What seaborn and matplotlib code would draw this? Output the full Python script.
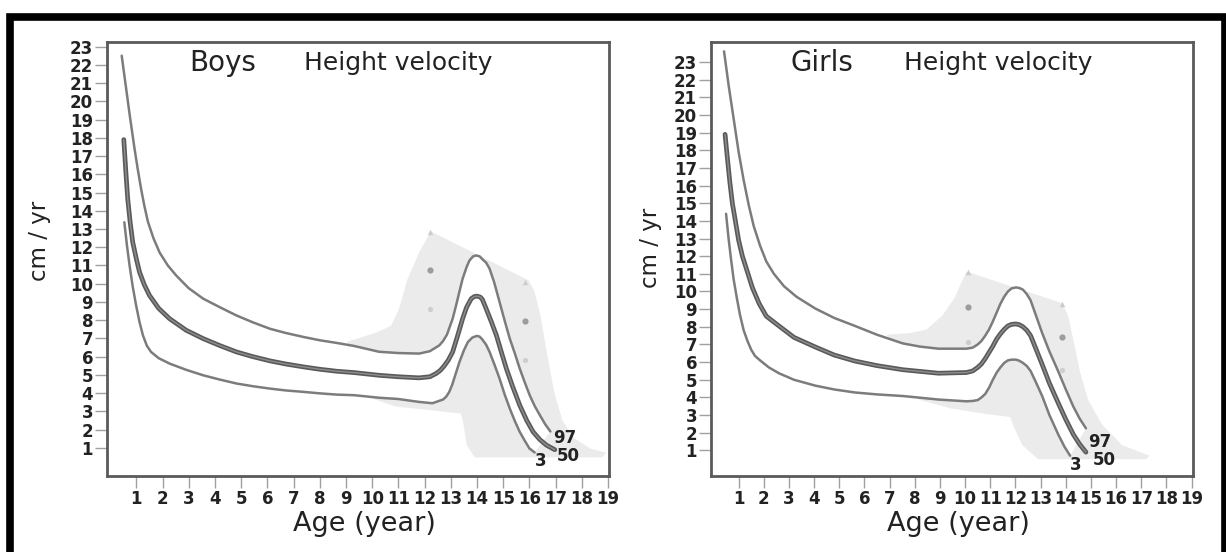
import numpy as np
import pandas as pd
import matplotlib
matplotlib.use("Agg")
import matplotlib.pyplot as plt
import matplotlib.patches as mpatches
import seaborn as sns

# --- Boys: height velocity percentiles (age in years, cm/yr) ---
boys_p97_age = [0.44, 0.6, 0.75, 0.93, 1.05, 1.18, 1.3, 1.44, 1.65, 1.89, 2.2, 2.52, 3.0, 3.55, 4.2,
                4.82, 5.45, 6.1, 6.7, 7.38, 8.0, 8.66, 9.3, 10.26, 11.0, 11.79, 12.2, 12.56, 12.7,
                12.85, 12.95, 13.07, 13.2, 13.3, 13.45, 13.6, 13.71, 13.85, 13.97, 14.1, 14.2,
                14.35, 14.48, 14.65, 14.86, 15.05, 15.25, 15.45, 15.63, 15.82, 16.01, 16.2, 16.4,
                16.6, 16.8]
boys_p97_val = [22.5, 20.8, 19.2, 17.4, 16.3, 15.2, 14.3, 13.4, 12.5, 11.7, 11.0, 10.45, 9.75, 9.18, 8.7,
                8.26, 7.88, 7.53, 7.3, 7.08, 6.9, 6.75, 6.59, 6.27, 6.2, 6.17, 6.3, 6.62, 6.85,
                7.2, 7.6, 8.08, 8.8, 9.4, 10.27, 10.9, 11.27, 11.5, 11.55, 11.5, 11.35,
                11.15, 10.82, 10.1, 9.0, 8.0, 6.99, 6.15, 5.35, 4.6, 3.89, 3.3, 2.79,
                2.3, 1.9]
boys_p50_age = [0.52, 0.6, 0.67, 0.76, 0.86, 1.0, 1.12, 1.3, 1.5, 1.85, 2.27, 2.9, 3.55, 4.2, 4.82,
                5.45, 6.1, 6.7, 7.38, 8.0, 8.66, 9.3, 10.26, 11.0, 11.79, 12.2, 12.43, 12.6, 12.75,
                12.9, 13.07, 13.25, 13.45, 13.6, 13.78, 13.9, 14.0, 14.12, 14.2, 14.35, 14.55,
                14.74, 14.93, 15.12, 15.35, 15.63, 15.9, 16.14, 16.4, 16.65, 16.97]
boys_p50_val = [17.9, 16.1, 14.65, 13.4, 12.28, 11.35, 10.64, 9.95, 9.36, 8.65, 8.08, 7.45, 6.99, 6.6, 6.26,
                6.0, 5.77, 5.6, 5.44, 5.31, 5.2, 5.13, 4.98, 4.9, 4.84, 4.9, 5.07, 5.25, 5.5,
                5.8, 6.26, 7.1, 8.08, 8.7, 9.18, 9.3, 9.32, 9.27, 9.15, 8.63, 7.9,
                7.17, 6.25, 5.35, 4.4, 3.34, 2.5, 1.88, 1.45, 1.15, 0.9]
boys_p3_age = [0.54, 0.64, 0.74, 0.86, 0.99, 1.12, 1.25, 1.4, 1.56, 1.85, 2.27, 2.9, 3.55, 4.2, 4.82,
               5.45, 6.1, 6.7, 7.38, 8.0, 8.66, 9.3, 10.26, 11.0, 11.79, 12.3, 12.7, 12.82, 12.94,
               13.05, 13.15, 13.33, 13.5, 13.65, 13.82, 14.0, 14.1, 14.2, 14.35, 14.48, 14.67,
               14.86, 15.05, 15.25, 15.45, 15.63, 15.82, 16.0, 16.2]
boys_p3_val = [13.37, 12.1, 11.0, 9.85, 8.81, 7.9, 7.17, 6.6, 6.26, 5.92, 5.62, 5.28, 4.98, 4.74, 4.53,
               4.38, 4.25, 4.15, 4.07, 3.99, 3.92, 3.89, 3.75, 3.68, 3.52, 3.45, 3.65, 3.8, 4.07,
               4.45, 4.9, 5.71, 6.35, 6.8, 7.05, 7.14, 7.1, 6.95, 6.65, 6.26, 5.55,
               4.8, 3.95, 3.16, 2.45, 1.88, 1.4, 0.97, 0.75]

# grey zone: spread of peak height velocity timing (boys)
boys_zone_age = [9.05, 10.12, 10.72, 11.03, 11.33, 11.79, 12.24, 15.97, 16.19, 16.42, 16.65, 16.95,
                 17.26, 17.71, 18.32, 18.93, 18.78, 13.91, 13.61, 13.46, 13.38, 12.4, 10.88, 10.12, 9.36]
boys_zone_val = [6.82, 7.3, 7.69, 8.65, 10.18, 11.72, 12.87, 10.18, 9.6, 8.26, 6.34, 4.04,
                 2.5, 1.54, 0.96, 0.73, 0.48, 0.48, 1.15, 2.5, 2.88, 3.04, 3.27, 3.65, 4.23]
boys_mark_age = [12.2, 15.82]
boys_mark_hi = [12.86, 10.09]
boys_mark_mid = [10.76, 7.96]
boys_mark_lo = [8.63, 5.8]

# --- Girls ---
girls_p97_age = [0.42, 0.6, 0.8, 1.0, 1.2, 1.4, 1.6, 1.85, 2.1, 2.4, 2.8, 3.3, 4.04, 4.8, 5.62, 6.5,
                 7.52, 8.2, 8.94, 10.05, 10.3, 10.5, 10.65, 10.8, 10.95, 11.1, 11.25, 11.4, 11.55,
                 11.7, 11.85, 12.02, 12.15, 12.3, 12.45, 12.6, 12.8, 13.06, 13.35, 13.7, 14.0,
                 14.3, 14.55, 14.8]
girls_p97_val = [23.6, 21.7, 19.8, 17.9, 16.3, 14.9, 13.7, 12.6, 11.7, 11.0, 10.3, 9.7, 9.04, 8.5, 8.05, 7.55,
                 7.06, 6.88, 6.76, 6.76, 6.82, 7.0, 7.2, 7.5, 7.85, 8.3, 8.8, 9.3, 9.7,
                 10.0, 10.18, 10.23, 10.2, 10.1, 9.85, 9.5, 8.7, 7.65, 6.6, 5.47, 4.45,
                 3.48, 2.8, 2.25]
girls_p50_age = [0.46, 0.55, 0.65, 0.75, 0.87, 1.0, 1.15, 1.35, 1.55, 1.82, 2.1, 2.6, 3.2, 4.04, 4.8,
                 5.62, 6.5, 7.52, 8.94, 10.05, 10.3, 10.5, 10.65, 10.8, 10.95, 11.1, 11.25, 11.4,
                 11.55, 11.7, 11.85, 12.02, 12.15, 12.3, 12.45, 12.6, 12.8, 13.06, 13.35, 13.7,
                 14.0, 14.3, 14.55, 14.8]
girls_p50_val = [18.9, 17.6, 16.2, 15.0, 14.0, 12.9, 12.0, 11.1, 10.2, 9.3, 8.6, 8.05, 7.4, 6.86, 6.4,
                 6.06, 5.8, 5.57, 5.37, 5.41, 5.5, 5.7, 5.9, 6.2, 6.55, 6.9, 7.3, 7.6,
                 7.85, 8.05, 8.14, 8.16, 8.12, 8.0, 7.8, 7.5, 6.8, 5.87, 4.8, 3.68,
                 2.75, 1.9, 1.35, 0.9]
girls_p3_age = [0.5, 0.6, 0.7, 0.8, 0.92, 1.05, 1.2, 1.35, 1.5, 1.65, 1.85, 2.2, 2.6, 3.2, 4.04, 4.8,
                5.62, 6.5, 7.52, 8.94, 10.05, 10.3, 10.5, 10.65, 10.8, 10.95, 11.1, 11.25, 11.4,
                11.55, 11.7, 11.85, 12.02, 12.15, 12.3, 12.45, 12.6, 12.8, 13.06, 13.35, 13.7,
                13.95, 14.17]
girls_p3_val = [14.4, 13.0, 11.8, 10.7, 9.7, 8.7, 7.8, 7.2, 6.7, 6.35, 6.1, 5.7, 5.37, 5.0, 4.67, 4.45,
                4.28, 4.17, 4.08, 3.88, 3.78, 3.8, 3.85, 4.0, 4.2, 4.55, 5.0, 5.4, 5.7,
                5.95, 6.1, 6.14, 6.14, 6.08, 5.95, 5.78, 5.5, 4.9, 4.08, 3.0, 1.9,
                1.2, 0.7]

girls_zone_age = [6.89, 7.84, 8.47, 9.1, 9.58, 10.05, 13.85, 14.09, 14.33, 14.56, 14.88, 15.43,
                  16.23, 17.33, 17.18, 12.9, 12.27, 11.95, 11.79, 10.69, 9.42, 8.15, 7.2]
girls_zone_val = [7.55, 7.65, 7.85, 8.64, 9.64, 11.13, 9.34, 8.64, 7.06, 5.47, 3.88, 2.49,
                  1.3, 0.7, 0.5, 0.5, 1.3, 2.29, 2.89, 3.09, 3.38, 3.88, 6.46]
girls_mark_age = [10.1, 13.86]
girls_mark_hi = [11.1, 9.29]
girls_mark_mid = [9.1, 7.41]
girls_mark_lo = [7.16, 5.58]

x_ticks = list(range(1, 20))
y_ticks = list(range(1, 24))
pct_labels = ["97", "50", "3"]
boys_label_pos = [(17.36, 1.56), (17.48, 0.55), (16.44, 0.28)]
girls_label_pos = [(15.36, 1.47), (15.52, 0.44), (14.41, 0.19)]

sns.set_theme(style="white")
plt.rcParams["font.family"] = ["DejaVu Sans"]

TXT = "#222222"
tick_font = dict(fontsize=12, fontweight="bold", color=TXT)


def draw_panel(ax, sex, curves, zone, marks, label_pos, xlim, ylim, ylab_xy, title_y, title_x):
    (a97, v97), (a50, v50), (a3, v3) = curves
    ax.fill(zone[0], zone[1], color="#ebebeb", lw=0, zorder=1)
    # white band between 3rd and 97th percentile
    ax.fill(list(a97) + list(a3)[::-1], list(v97) + list(v3)[::-1], color="white", lw=0, zorder=2)

    m_age, m_hi, m_mid, m_lo = marks
    sns.scatterplot(x=m_age, y=m_hi, marker="^", s=16, color="#cccccc", linewidth=0, ax=ax, zorder=3)
    sns.scatterplot(x=m_age, y=m_mid, marker="o", s=20, color="#9c9c9c", linewidth=0, ax=ax, zorder=3)
    sns.scatterplot(x=m_age, y=m_lo, marker="o", s=14, color="#cdcdcd", linewidth=0, ax=ax, zorder=3)

    for a, v in [(a97, v97), (a3, v3)]:
        df = pd.DataFrame({"age": a, "v": v})
        sns.lineplot(data=df, x="age", y="v", sort=False, estimator=None, color="#7c7c7c",
                     lw=1.8, ax=ax, zorder=4)
    df = pd.DataFrame({"age": a50, "v": v50})
    sns.lineplot(data=df, x="age", y="v", sort=False, estimator=None, color="#5a5a5a", lw=3.4, ax=ax, zorder=4)
    sns.lineplot(data=df, x="age", y="v", sort=False, estimator=None, color="#8e8e8e", lw=1.0, ax=ax, zorder=5)

    for lab, (x, y) in zip(pct_labels, label_pos):
        ax.text(x, y, lab, ha="center", va="center", zorder=6, **tick_font)

    ax.set_xlim(*xlim)
    ax.set_ylim(*ylim)
    ax.set_xticks(x_ticks)
    ax.set_yticks(y_ticks)
    ax.set_xticklabels([str(t) for t in x_ticks], **tick_font)
    ax.set_yticklabels([str(t) for t in y_ticks], **tick_font)
    ax.tick_params(axis="both", which="major", direction="out", length=8.5, width=1,
                   color="#a0a0a0", pad=1.5, bottom=True, left=True)
    for sp in ax.spines.values():
        sp.set_color("#5a5a5a")
        sp.set_linewidth(2)
    ax.set_xlabel("Age (year)", fontsize=19.5, color=TXT)
    ax.xaxis.set_label_coords(0.513, -0.11)
    ax.xaxis.label.set_va("center")
    ax.set_ylabel("")
    ax.text(ylab_xy[0], ylab_xy[1], "cm / yr", rotation=90, fontsize=16.5, color=TXT,
            ha="center", va="center", transform=ax.transAxes)
    ax.text(4.3, title_y, sex, fontsize=20, color=TXT, ha="center", va="center")
    ax.text(title_x, title_y, "Height velocity", fontsize=18, color=TXT, ha="center", va="center")
    ax.grid(False)


fig = plt.figure(figsize=(12.26, 5.52), dpi=100)
ax1 = fig.add_axes([0.0873, 0.1377, 0.4095, 0.7862])
ax2 = fig.add_axes([0.5799, 0.1377, 0.3931, 0.7862])

draw_panel(ax1, "Boys",
           [(boys_p97_age, boys_p97_val), (boys_p50_age, boys_p50_val), (boys_p3_age, boys_p3_val)],
           (boys_zone_age, boys_zone_val),
           (boys_mark_age, boys_mark_hi, boys_mark_mid, boys_mark_lo),
           boys_label_pos, (-0.12, 19.04), (-0.54, 23.25), (-0.135, 0.541), 22.1, 11.0)
draw_panel(ax2, "Girls",
           [(girls_p97_age, girls_p97_val), (girls_p50_age, girls_p50_val), (girls_p3_age, girls_p3_val)],
           (girls_zone_age, girls_zone_val),
           (girls_mark_age, girls_mark_hi, girls_mark_mid, girls_mark_lo),
           girls_label_pos, (-0.1, 19.05), (-0.45, 24.13), (-0.126, 0.525), 22.94, 11.3)

# thick black frame around the figure (bottom edge cut off)
frame = mpatches.Rectangle((10 / 1226, -0.2), (1224.5 - 10) / 1226, 1.2 - 16.5 / 552,
                           transform=fig.transFigure, fill=False, edgecolor="black", lw=5.5)
fig.add_artist(frame)

fig.savefig("out.png", dpi=100, facecolor="white")
